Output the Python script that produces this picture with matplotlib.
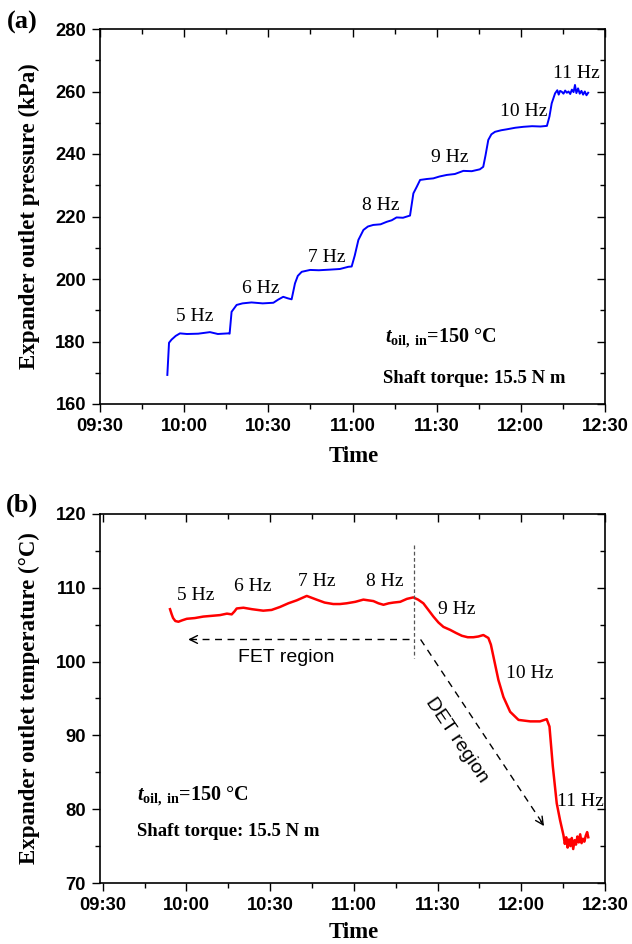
import matplotlib
matplotlib.use("Agg")
import matplotlib.pyplot as plt
from matplotlib.ticker import MultipleLocator, FixedLocator

plt.rcParams['font.family'] = ['Liberation Serif', 'DejaVu Serif']
plt.rcParams['mathtext.fontset'] = 'custom'
plt.rcParams['mathtext.rm'] = 'Liberation Serif'
plt.rcParams['mathtext.bf'] = 'Liberation Serif:bold'
plt.rcParams['mathtext.it'] = 'Liberation Serif:italic'
plt.rcParams['mathtext.bfit'] = 'Liberation Serif:bold:italic'

# ---------------- data (time in minutes after 09:30) ----------------
tick_minutes = [0, 30, 60, 90, 120, 150, 180]
tick_labels = ["09:30", "10:00", "10:30", "11:00", "11:30", "12:00", "12:30"]

p_time = [24.0, 24.6, 25.5, 27.0, 28.5, 31.0, 35.0, 39.2, 42.0, 45.7, 46.2, 46.9, 48.7, 50.8,
          54.0, 58.0, 61.8, 63.5, 65.3, 67.0, 68.3, 69.5, 70.5, 71.9, 74.9, 78.0, 82.0, 85.5,
          88.5, 89.7, 90.8, 92.1, 93.9, 95.5, 97.4, 100.0, 102.2, 104.0, 105.7, 108.0, 110.5,
          111.7, 112.9, 114.1, 116.5, 118.8, 121.0, 123.6, 126.5, 129.5, 132.5, 135.4, 136.6,
          137.4, 138.4, 139.5, 140.8, 143.0, 145.0, 148.0, 150.9, 154.0, 157.0, 159.3, 160.2,
          161.0, 162.2, 163.0, 163.5, 164.0, 164.6, 165.2, 165.8, 166.4, 167.0, 167.6, 168.2,
          168.8, 169.3, 169.8, 170.4, 171.0, 171.6, 172.2, 172.8, 173.4, 174.0]
p_val = [169.3, 179.6, 180.6, 181.8, 182.6, 182.4, 182.5, 183.0, 182.4, 182.6, 182.5, 189.5,
         191.7, 192.2, 192.5, 192.2, 192.4, 193.4, 194.3, 193.8, 193.5, 198.6, 201.0, 202.3,
         202.9, 202.8, 203.0, 203.2, 203.9, 204.0, 207.5, 212.5, 215.7, 216.8, 217.3, 217.5,
         218.3, 218.8, 219.7, 219.6, 220.3, 227.4, 229.5, 231.7, 232.0, 232.2, 232.8, 233.3,
         233.6, 234.6, 234.5, 235.1, 235.9, 239.5, 244.5, 246.3, 247.1, 247.6, 247.9, 248.4,
         248.7, 248.9, 248.8, 249.0, 252.0, 256.2, 259.4, 260.4, 259.0, 260.2, 259.9, 259.3,
         260.3, 259.6, 260.0, 259.2, 260.6, 259.8, 262.1, 259.5, 261.0, 259.3, 260.2, 259.0,
         260.0, 258.8, 259.6]

t_time = [24.1, 24.7, 25.2, 26.0, 27.1, 28.5, 30.1, 33.0, 36.0, 39.0, 42.0, 44.5, 46.2,
          47.2, 48.0, 50.4, 53.5, 57.5, 60.5, 63.5, 66.5, 69.5, 73.1, 76.6, 79.5, 82.6, 85.0,
          87.4, 90.5, 93.4, 95.2, 97.0, 98.8, 100.6, 102.5, 104.2, 106.6, 109.0, 111.3, 113.0,
          114.9, 116.7, 118.5, 120.3, 122.1, 124.5, 126.5, 128.7, 130.8, 132.8, 134.6, 136.4,
          138.2, 139.1, 140.0, 141.8, 143.6, 146.0, 149.0, 153.2, 156.7, 159.1, 160.1, 161.3,
          162.7, 163.9, 165.1, 165.6, 166.1, 166.6, 167.1, 167.6, 168.1, 168.6, 169.1, 169.6,
          170.1, 170.6, 171.1, 171.6, 172.1, 172.6, 173.1, 173.6, 174.0]
t_val = [107.1, 106.4, 105.9, 105.5, 105.4, 105.6, 105.8, 105.9, 106.1, 106.2, 106.3, 106.5,
         106.4, 106.8, 107.2, 107.3, 107.1, 106.9, 107.0, 107.4, 107.9, 108.3, 108.9, 108.4,
         108.0, 107.8, 107.8, 107.9, 108.1, 108.4, 108.3, 108.2, 107.9, 107.7, 107.9, 108.0,
         108.1, 108.5, 108.7, 108.4, 107.9, 107.0, 106.1, 105.3, 104.7, 104.3, 103.9, 103.5,
         103.3, 103.3, 103.4, 103.6, 103.2, 102.3, 100.7, 97.5, 95.2, 93.2, 92.1, 91.9, 91.9,
         92.2, 91.2, 85.8, 80.8, 78.5, 76.5, 75.3, 76.2, 74.8, 75.9, 75.0, 76.1, 74.6, 75.8,
         75.2, 76.3, 75.5, 76.6, 75.4, 76.0, 75.6, 76.4, 76.9, 76.2]

hz_labels = ["5 Hz", "6 Hz", "7 Hz", "8 Hz", "9 Hz", "10 Hz", "11 Hz"]
a_label_x = [33.9, 57.4, 80.8, 100.0, 124.8, 150.9, 169.9]
a_label_y = [187.9, 197.0, 206.9, 223.5, 238.8, 253.5, 265.8]
b_label_x = [33.2, 53.9, 76.6, 101.1, 126.8, 153.1, 171.1]
b_label_y = [108.9, 110.2, 110.9, 110.8, 107.0, 98.4, 81.0]

t_oil_text = r'$\mathbfit{t}_{\mathbf{oil,\ in}}$=150 °C'
torque_text = "Shaft torque: 15.5 N m"

# ---------------- figure ----------------
fig = plt.figure(figsize=(6.32, 9.44), dpi=100)
ax1 = fig.add_axes([100/632, 1-404/944, 505/632, 375/944])
ax2 = fig.add_axes([100/632, 1-883/944, 505/632, 369/944])

sans = ['Liberation Sans', 'DejaVu Sans']


def style(ax, ylim, ymaj, ymin, xlim):
    ax.set_xlim(*xlim)
    ax.set_ylim(*ylim)
    ax.xaxis.set_major_locator(FixedLocator(tick_minutes))
    ax.set_xticklabels(tick_labels)
    ax.xaxis.set_minor_locator(MultipleLocator(15))
    ax.yaxis.set_major_locator(MultipleLocator(ymaj))
    ax.yaxis.set_minor_locator(MultipleLocator(ymin))
    ax.tick_params(axis='both', which='major', length=6, width=1.0, direction='out',
                   labelsize=13.2, pad=4)
    ax.tick_params(axis='both', which='minor', length=3.5, width=1.0, direction='out')
    ax.tick_params(axis='both', which='both', right=True, top=True)
    ax.tick_params(axis='y', which='major', pad=4)
    for lab in ax.get_xticklabels() + ax.get_yticklabels():
        lab.set_fontfamily(sans)
        lab.set_fontweight('bold')
    for s in ax.spines.values():
        s.set_linewidth(1.2)
    # ticks on the right / top point inward
    for t in ax.yaxis.get_major_ticks() + ax.yaxis.get_minor_ticks():
        t.tick2line.set_marker(matplotlib.lines.TICKLEFT)
    for t in ax.xaxis.get_major_ticks() + ax.xaxis.get_minor_ticks():
        t.tick2line.set_marker(matplotlib.lines.TICKDOWN)


style(ax1, (160, 280), 20, 10, (0, 180))
style(ax2, (70, 120), 10, 5, (-1.0, 180))

# ---------------- panel (a) ----------------
ax1.plot(p_time, p_val, color='#0000ff', lw=1.4)
for lab, x, y in zip(hz_labels, a_label_x, a_label_y):
    ax1.text(x, y, lab, ha='center', va='center', fontsize=14)
ax1.text(101.6, 181.1, t_oil_text, ha='left', va='center', fontsize=14.5, fontweight='bold')
ax1.text(101.0, 168.3, torque_text, ha='left', va='center', fontsize=13.5, fontweight='bold')
ax1.set_ylabel("Expander outlet pressure (kPa)", fontsize=16.5, fontweight='bold')
ax1.yaxis.set_label_coords(-0.118, 0.5)
ax1.set_xlabel("Time", fontsize=16.5, fontweight='bold')
ax1.xaxis.set_label_coords(0.503, -0.112)
fig.text(22/632, 1-22/944, "(a)", fontsize=19, fontweight='bold', ha='center', va='center')

# ---------------- panel (b) ----------------
ax2.plot(t_time, t_val, color='#ff0000', lw=1.8)
for lab, x, y in zip(hz_labels, b_label_x, b_label_y):
    ax2.text(x, y, lab, ha='center', va='center', fontsize=14)
ax2.text(12.3, 81.8, t_oil_text, ha='left', va='center', fontsize=14.5, fontweight='bold')
ax2.text(12.3, 77.0, torque_text, ha='left', va='center', fontsize=13.5, fontweight='bold')

# region markers
ax2.plot([111.4, 111.4], [115.8, 100.5], color='#555555', lw=0.9, ls=(0, (3, 2)))
ax2.plot([109.9, 30.2], [103.0, 103.0], color='black', lw=1.0, ls=(0, (5, 4)))
ax2.annotate('', xy=(29.6, 103.0), xytext=(33.5, 103.0),
             arrowprops=dict(arrowstyle='->', lw=1.0, color='black', mutation_scale=14))
ax2.plot([113.9, 158.3], [103.0, 77.7], color='black', lw=1.0, ls=(0, (5, 4)))
ax2.annotate('', xy=(158.7, 77.4), xytext=(156.4, 78.7),
             arrowprops=dict(arrowstyle='->', lw=1.0, color='black', mutation_scale=14))
ax2.text(65.9, 100.6, "FET region", ha='center', va='center', fontsize=14, family=sans)
ax2.text(126.8, 89.4, "DET region", ha='center', va='center', fontsize=14, family=sans,
         rotation=-56, rotation_mode='anchor')

ax2.set_ylabel("Expander outlet temperature (°C)", fontsize=16.5, fontweight='bold')
ax2.yaxis.set_label_coords(-0.118, 0.5)
ax2.set_xlabel("Time", fontsize=16.5, fontweight='bold')
ax2.xaxis.set_label_coords(0.503, -0.105)
fig.text(22/632, 1-505/944, "(b)", fontsize=19, fontweight='bold', ha='center', va='center')

fig.savefig("out.png", dpi=100)
